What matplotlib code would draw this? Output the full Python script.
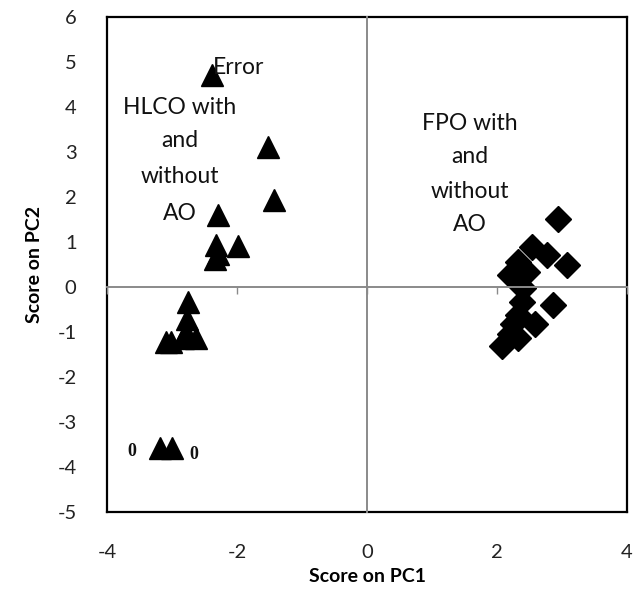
import matplotlib
matplotlib.use("Agg")
import matplotlib.pyplot as plt

plt.rcParams['font.family'] = ['Lato', 'DejaVu Sans']
plt.rcParams['axes.unicode_minus'] = False

# HLCO scores (triangles)
hlco_pc1 = [-2.38, -1.52, -1.43, -2.29, -2.32, -1.98, -2.34, -2.29, -2.75, -2.77,
            -2.78, -3.10, -3.02, -2.63, -2.83, -3.18, -3.00]
hlco_pc2 = [4.72, 3.12, 1.93, 1.61, 0.94, 0.92, 0.63, 0.74, -0.32, -0.70,
            -0.99, -1.23, -1.23, -1.14, -1.14, -3.58, -3.58]

# FPO scores (diamonds)
fpo_pc1 = [2.94, 3.08, 2.77, 2.54, 2.46, 2.32, 2.20, 2.40, 2.38, 2.86,
           2.32, 2.25, 2.58, 2.20, 2.32, 2.08]
fpo_pc2 = [1.52, 0.50, 0.72, 0.89, 0.34, 0.56, 0.28, -0.03, -0.32, -0.39,
           -0.61, -0.83, -0.83, -1.05, -1.14, -1.32]

x_ticks = [-4, -2, 0, 2, 4]
y_ticks = [-5, -4, -3, -2, -1, 0, 1, 2, 3, 4, 5, 6]

fig = plt.figure(figsize=(6.34, 5.94), dpi=100)
pos = [0.169, 0.138, 0.820, 0.833]
ax = fig.add_axes(pos)
ax.set_xlim(-4, 4)
ax.set_ylim(-5, 6)
ax.set_xticks(x_ticks)
ax.set_yticks(y_ticks)
ax.tick_params(length=0, labelsize=14.5, colors='#222222')
ax.tick_params(axis='x', pad=23)
ax.tick_params(axis='y', pad=22)
for s in ax.spines.values():
    s.set_color('black')
    s.set_linewidth(1.6)

# zero axes: horizontal one with small tick marks
ax2 = fig.add_axes(pos, frameon=True, sharex=ax, sharey=ax)
ax2.patch.set_visible(False)
for name in ['top', 'right']:
    ax2.spines[name].set_visible(False)
for name in ['left', 'bottom']:
    ax2.spines[name].set_position(('data', 0))
    ax2.spines[name].set_color('#8a8a8a')
    ax2.spines[name].set_linewidth(1.4)
ax2.tick_params(axis='x', direction='out', length=5, width=1, color='#8a8a8a',
                labelbottom=False)
ax2.tick_params(axis='y', length=0, labelleft=False)

ax.plot(hlco_pc1, hlco_pc2, linestyle='none', marker='^', markersize=15.5,
        color='black', zorder=3)
ax.plot(fpo_pc1, fpo_pc2, linestyle='none', marker='D', markersize=13,
        color='black', zorder=3)

ax.set_xlabel('Score on PC1', fontsize=14, fontweight='bold', labelpad=5)
ax.set_ylabel('Score on PC2', fontsize=14, fontweight='bold', labelpad=10)

tkw = dict(fontsize=16.5, ha='center', va='center', color='#111111', zorder=4)
ax.text(-1.98, 4.89, 'Error', **tkw)
for txt, yy in zip(['HLCO with', 'and', 'without', 'AO'], [4.0, 3.25, 2.45, 1.63]):
    ax.text(-2.88, yy, txt, **tkw)
for txt, yy in zip(['FPO with', 'and', 'without', 'AO'], [3.63, 2.90, 2.12, 1.39]):
    ax.text(1.58, yy, txt, **tkw)

zkw = dict(fontsize=13, ha='center', va='center', family='Liberation Serif',
           fontweight='bold', color='#111111')
ax.text(-3.62, -3.65, '0', **zkw)
ax.text(-2.66, -3.71, '0', **zkw)

fig.savefig('out.png', dpi=100)
